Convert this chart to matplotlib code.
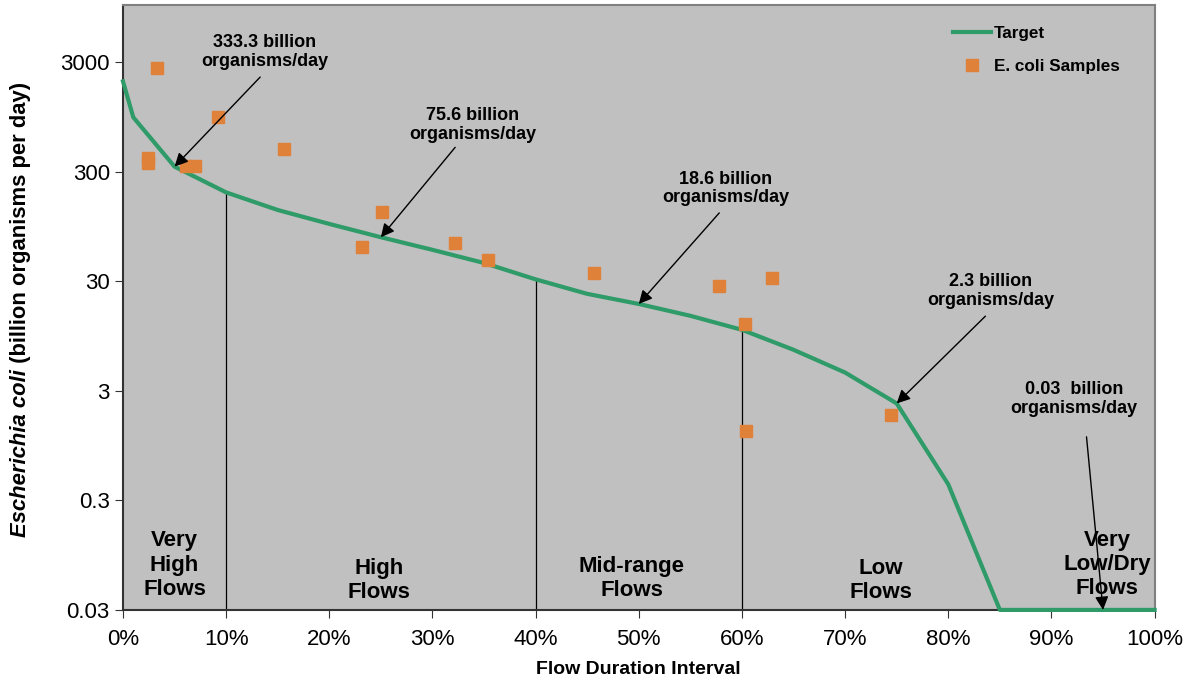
import matplotlib
matplotlib.use("Agg")
import matplotlib.pyplot as plt

plt.rcParams['font.family'] = ['Liberation Sans', 'DejaVu Sans']

# Целевая кривая (Target)
target_x = [0, 1, 5, 10, 15, 20, 25, 30, 35, 40, 45, 50, 55, 60, 65, 70, 75, 80, 85, 90, 95, 100]
target_y = [2000, 940, 333.3, 194, 134, 100, 75.6, 58, 44, 31.2, 23, 18.6, 14.5, 10.8, 7.1, 4.4,
            2.3, 0.42, 0.03, 0.03, 0.03, 0.03]

# Пробы E. coli
sample_x = [3.3, 2.4, 2.4, 6.1, 7.0, 9.2, 15.6, 25.1, 23.2, 32.2, 35.4, 45.7, 57.8, 62.9, 60.3, 60.4, 74.4]
sample_y = [2650, 400, 357, 337, 337, 940, 480, 128, 62, 67, 47, 36, 27, 32, 12.2, 1.3, 1.8]

y_ticks = [0.03, 0.3, 3, 30, 300, 3000]
y_tick_labels = ['0.03', '0.3', '3', '30', '300', '3000']
x_ticks = list(range(0, 101, 10))
x_tick_labels = [f"{t}%" for t in x_ticks]

# Границы зон и подписи зон
zone_bounds = [10, 40, 60]
zone_labels = ["Very\nHigh\nFlows", "High\nFlows", "Mid-range\nFlows", "Low\nFlows", "Very\nLow/Dry\nFlows"]
zone_pos = [(5, 0.077), (24.8, 0.056), (49.3, 0.058), (73.5, 0.056), (95.4, 0.078)]

# Подписи со стрелками: (текст, позиция текста, начало стрелки, x точки)
notes = [
    ("333.3 billion\norganisms/day", (13.7, 3700), (13.3, 2190), 5),
    ("75.6 billion\norganisms/day", (33.9, 800), (32.2, 500), 25),
    ("18.6 billion\norganisms/day", (58.4, 212), (57.8, 126), 50),
    ("2.3 billion\norganisms/day", (84.1, 24.4), (83.6, 14.4), 75),
    ("0.03  billion\norganisms/day", (92.2, 2.52), (93.4, 1.14), 95),
]

fig = plt.figure(figsize=(11.94, 6.83), dpi=100)
ax = fig.add_axes([0.103, 0.107, 0.864, 0.886])
ax.set_facecolor('#C0C0C0')

ax.set_yscale('log')
ax.set_ylim(0.03, 10000)
ax.set_xlim(0, 100)

for b in zone_bounds:
    top = target_y[target_x.index(b)]
    ax.plot([b, b], [0.03, top], color='black', lw=0.9, zorder=2)

ax.plot(target_x, target_y, color='#2E9B69', lw=3, label='Target', zorder=3, clip_on=False)
ax.plot(sample_x, sample_y, 's', color='#E0813A', markersize=8, ls='none',
        label='E. coli Samples', zorder=4)

for txt, tpos, tail, hx in notes:
    hy = target_y[target_x.index(hx)]
    ax.text(tpos[0], tpos[1], txt, ha='center', va='center', fontsize=13,
            fontweight='bold', linespacing=1.1, zorder=6)
    ax.annotate('', xy=(hx, hy), xytext=tail,
                arrowprops=dict(arrowstyle='-|>', color='black', lw=1,
                                mutation_scale=20, shrinkA=0, shrinkB=0), zorder=6)

for lab, (zx, zy) in zip(zone_labels, zone_pos):
    ax.text(zx, zy, lab, ha='center', va='center', fontsize=16, fontweight='bold',
            linespacing=1.2, zorder=5)

ax.set_yticks(y_ticks)
ax.set_yticklabels(y_tick_labels)
ax.yaxis.set_minor_locator(matplotlib.ticker.NullLocator())
ax.set_xticks(x_ticks)
ax.set_xticklabels(x_tick_labels)
ax.tick_params(axis='both', direction='out', length=6, labelsize=16, color='#333333')
ax.tick_params(axis='x', pad=8)

for s in ['top', 'right']:
    ax.spines[s].set_color('#808080')
    ax.spines[s].set_linewidth(1.5)
for s in ['left', 'bottom']:
    ax.spines[s].set_color('#333333')
    ax.spines[s].set_linewidth(1.5)

ax.set_xlabel("Flow Duration Interval", fontsize=14, fontweight='bold', labelpad=8)

# Подпись оси Y: курсивная часть + обычная жирная
fig.canvas.draw()
y0 = (683 - 537) / 683
t1 = fig.text(0.017, y0, "Escherichia coli", rotation=90, ha='center', va='bottom',
              fontsize=15.8, fontweight='bold', fontstyle='italic')
fig.canvas.draw()
bb = t1.get_window_extent().transformed(fig.transFigure.inverted())
fig.text(0.017, bb.y1, " (billion organisms per day)", rotation=90, ha='center', va='bottom',
         fontsize=15.8, fontweight='bold')

leg = ax.legend(loc='upper left', bbox_to_anchor=(0.805, 0.965), frameon=False,
                prop={'weight': 'bold', 'size': 12.3}, handlelength=2.2, handletextpad=0.15,
                labelspacing=1.05, borderpad=0, borderaxespad=0)

fig.savefig("out.png", dpi=100)
